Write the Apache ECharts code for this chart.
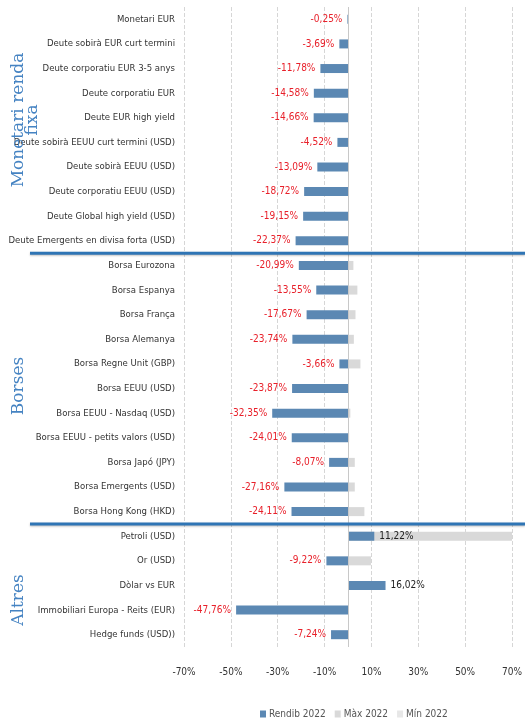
<!DOCTYPE html>
<html>
<head>
<meta charset="utf-8">
<title>Rendibilitat 2022</title>
<script src="https://cdn.jsdelivr.net/npm/echarts@6/dist/echarts.min.js"></script>
<style>
    html, body { margin: 0; padding: 0; background: #fff; }
    #chart { width: 525px; height: 722px; }
</style>
</head>
<body>
<div id="chart"></div>
<script>
// categories, top to bottom
const categories = [
    'Monetari EUR',
    'Deute sobirà EUR curt termini',
    'Deute corporatiu EUR 3-5 anys',
    'Deute corporatiu EUR',
    'Deute EUR high yield',
    'Deute sobirà EEUU curt termini (USD)',
    'Deute sobirà EEUU (USD)',
    'Deute corporatiu EEUU (USD)',
    'Deute Global high yield (USD)',
    'Deute Emergents en divisa forta (USD)',
    'Borsa Eurozona',
    'Borsa Espanya',
    'Borsa França',
    'Borsa Alemanya',
    'Borsa Regne Unit (GBP)',
    'Borsa EEUU (USD)',
    'Borsa EEUU - Nasdaq (USD)',
    'Borsa EEUU - petits valors (USD)',
    'Borsa Japó (JPY)',
    'Borsa Emergents (USD)',
    'Borsa Hong Kong (HKD)',
    'Petroli (USD)',
    'Or (USD)',
    'Dòlar vs EUR',
    'Immobiliari Europa - Reits (EUR)',
    'Hedge funds (USD))'
];

// Rendib 2022 (%)
const rendib = [
    -0.25, -3.69, -11.78, -14.58, -14.66, -4.52, -13.09, -18.72, -19.15, -22.37,
    -20.99, -13.55, -17.67, -23.74, -3.66, -23.87, -32.35, -24.01, -8.07, -27.16, -24.11,
    11.22, -9.22, 16.02, -47.76, -7.24
];

// Màx 2022 (%) - estimat a partir de les barres grises
const maxim = [
    0, 0, 0, 0, 0, 0, 0, 0, 0, 0,
    2.3, 4.0, 3.2, 2.5, 5.3, 0, 1.0, 0.5, 2.9, 2.9, 7.0,
    70, 9.8, 0, 0, 0
];

// Mín 2022 - no es veu al gràfic, només a la llegenda
const minim = [];

// eix X
const xMin = -70;
const xMax = 70;
const xStep = 20;

// títols de grup (y aproximada al centre del text)
const groups = [
    { lines: ['Monetari renda', 'fixa'], y: 120 },
    { lines: ['Borses'], y: 386 },
    { lines: ['Altres'], y: 600 }
];
const separators = [9, 20]; // línia després d'aquests índexs

const fmt = v => v.toFixed(2).replace('.', ',') + '%';

// busquem una font estreta (tipus Calibri) si n'hi ha cap instal·lada
const hasFont = name => {
    const ctx = document.createElement('canvas').getContext('2d');
    const s = 'Deute Emergents en divisa forta (USD)';
    ctx.font = '20px monospace';
    const a = ctx.measureText(s).width;
    ctx.font = '20px "' + name + '", monospace';
    return ctx.measureText(s).width !== a;
};
let narrow = 'Roboto, sans-serif';
let labelSize = 9.5;
for (const f of ['Liberation Sans Narrow', 'DejaVu Sans Condensed', 'Arial Narrow']) {
    if (hasFont(f)) {
        narrow = '"' + f + '", sans-serif';
        labelSize = f === 'DejaVu Sans Condensed' ? 9.5 : 10.5;
        break;
    }
}

const chart = echarts.init(document.getElementById('chart'));

const option = {
    animation: false,
    backgroundColor: '#fff',
    grid: { left: 184, right: 11, top: 7, bottom: 75 },
    legend: {
        data: ['Rendib 2022', 'Màx 2022', 'Mín 2022'],
        left: 255,
        top: 704,
        itemWidth: 6,
        itemHeight: 7,
        itemGap: 9,
        icon: 'rect',
        textStyle: { fontFamily: narrow, fontSize: labelSize + 0.5, color: '#555', padding: [0, 0, 0, -2] }
    },
    xAxis: {
        type: 'value',
        min: xMin,
        max: xMax,
        interval: xStep,
        axisLine: { show: false },
        axisTick: { show: false },
        axisLabel: {
            formatter: '{value}%',
            margin: 20,
            fontFamily: narrow,
            fontSize: labelSize + 0.5,
            color: '#333'
        },
        splitLine: { lineStyle: { type: 'dashed', color: '#d6d6d6' } }
    },
    yAxis: {
        type: 'category',
        inverse: true,
        data: categories,
        axisLine: { show: false },
        axisTick: { show: false },
        axisLabel: {
            margin: 9,
            fontFamily: narrow,
            fontSize: labelSize,
            color: '#333'
        }
    },
    series: [
        {
            name: 'Màx 2022',
            type: 'bar',
            data: maxim,
            barWidth: 9,
            barGap: '-100%',
            itemStyle: { color: '#d9d9d9' },
            // línia del zero
            markLine: {
                silent: true,
                symbol: 'none',
                label: { show: false },
                lineStyle: { color: '#c8c8c8', type: 'solid', width: 1 },
                data: [{ xAxis: 0 }]
            }
        },
        {
            name: 'Mín 2022',
            type: 'bar',
            data: minim,
            barWidth: 9,
            barGap: '-100%',
            itemStyle: { color: '#e7e7e7' }
        },
        {
            name: 'Rendib 2022',
            type: 'bar',
            barWidth: 9,
            barGap: '-100%',
            itemStyle: { color: '#5b88b3' },
            data: rendib.map(v => ({
                value: v,
                label: {
                    position: v < 0 ? 'left' : 'right',
                    color: v < 0 ? '#e8202a' : '#222'
                }
            })),
            label: {
                show: true,
                distance: 5,
                fontFamily: narrow,
                fontSize: labelSize + 0.5,
                formatter: p => fmt(p.value)
            },
            z: 3
        }
    ]
};

chart.setOption(option);

// línies de separació i títols de grup
const yPos = i => chart.convertToPixel({ yAxisIndex: 0 }, i);
const graphics = [];
separators.forEach(i => {
    const y = (yPos(i) + yPos(i + 1)) / 2;
    graphics.push({
        type: 'line',
        shape: { x1: 30, y1: y, x2: 525, y2: y },
        style: {
            stroke: '#2f75b5',
            lineWidth: 3,
            shadowColor: 'rgba(0,0,0,0.25)',
            shadowBlur: 2,
            shadowOffsetY: 1
        },
        z: 10
    });
});
groups.forEach(g => {
    g.lines.forEach((t, k) => {
        graphics.push({
            type: 'text',
            x: 19 + k * 14,
            y: g.y,
            rotation: Math.PI / 2,
            style: {
                text: t,
                fill: '#4583c2',
                font: '17px "DejaVu Serif", serif',
                align: 'center',
                verticalAlign: 'middle'
            },
            z: 10
        });
    });
});
chart.setOption({ graphic: graphics });
</script>
</body>
</html>
